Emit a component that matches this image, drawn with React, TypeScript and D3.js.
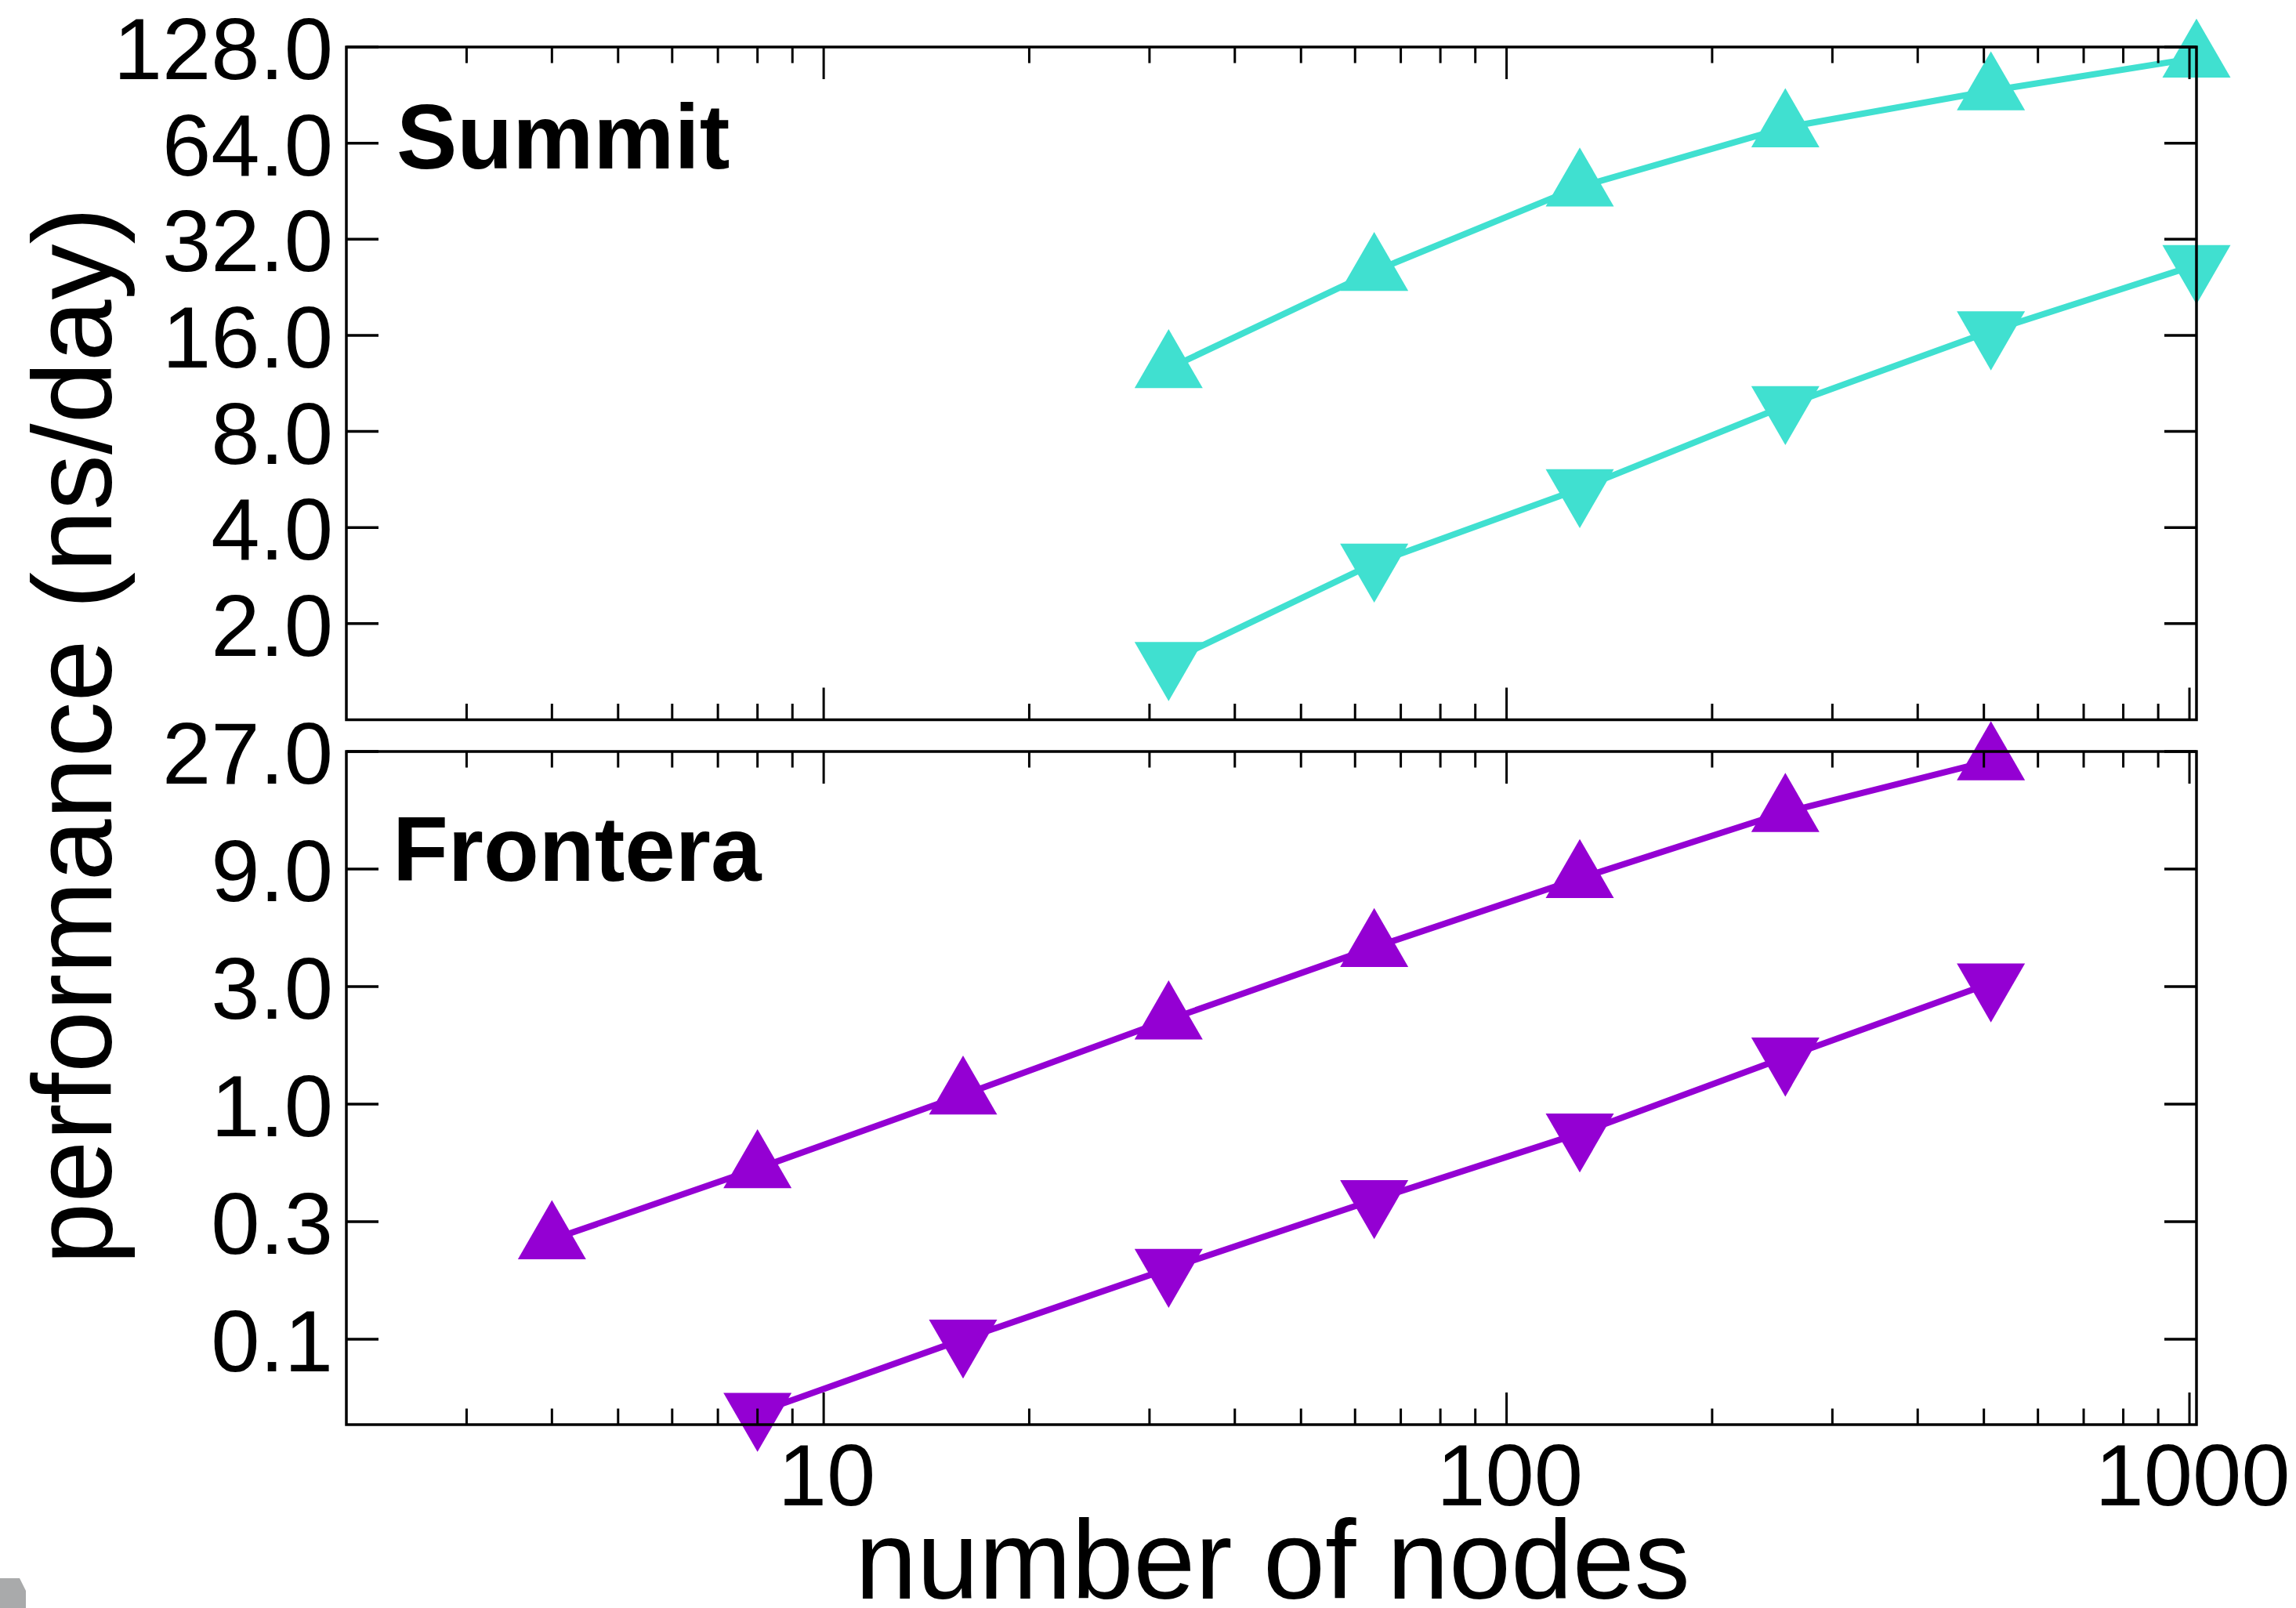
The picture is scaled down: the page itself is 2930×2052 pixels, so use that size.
import React from "react";
import * as d3 from "d3";

// ---- data ----
const summitNodes = [32, 64, 128, 256, 512, 1024];
const summitUp = [12.6, 25.4, 46.7, 71.6, 93.4, 118.3];
const summitDown = [1.52, 3.09, 5.29, 9.63, 16.5, 26.6];

const fronteraUpNodes = [4, 8, 16, 32, 64, 128, 256, 512];
const fronteraUp = [0.282, 0.548, 1.09, 2.2, 4.33, 8.25, 15.3, 24.8];
const fronteraDownNodes = [8, 16, 32, 64, 128, 256, 512];
const fronteraDown = [0.056, 0.111, 0.215, 0.409, 0.762, 1.55, 3.1];

const topTickValues = [128, 64, 32, 16, 8, 4, 2];
const topTickLabels = ["128.0", "64.0", "32.0", "16.0", "8.0", "4.0", "2.0"];
const botTickValues = [27, 9, 3, 1, 1 / 3, 1 / 9];
const botTickLabels = ["27.0", "9.0", "3.0", "1.0", "0.3", "0.1"];
const xMajor = [10, 100, 1000];
const xMajorLabels = ["10", "100", "1000"];
const xMinor = [3, 4, 5, 6, 7, 8, 9, 20, 30, 40, 50, 60, 70, 80, 90, 200, 300, 400, 500, 600, 700, 800, 900];

const TURQ = "#40E0D0";
const PURPLE = "#9400D3";
const FONT = "'Liberation Sans', Arial, Helvetica, sans-serif";

const W = 2930;
const H = 2052;
const L = 442;
const R = 2803;
const topPanel = { y0: 60, y1: 918.5 };
const botPanel = { y0: 959, y1: 1818 };

const x = d3.scaleLog().domain([2, 1024]).range([L, R]);
const yTop = d3.scaleLog().domain([1, 128]).range([topPanel.y1, topPanel.y0]);
const yBot = d3.scaleLog().domain([0.05, 27]).range([botPanel.y1, botPanel.y0]);

const SIDE = 87;
const TH = (SIDE * Math.sqrt(3)) / 2;

function tri(cx: number, cy: number, up: boolean) {
  const s = up ? 1 : -1;
  const apex = cy - (s * 2 * TH) / 3;
  const base = cy + (s * TH) / 3;
  return `M${cx},${apex}L${cx - SIDE / 2},${base}L${cx + SIDE / 2},${base}Z`;
}

function Series({ xs, ys, y, color, up }: { xs: number[]; ys: number[]; y: any; color: string; up: boolean }) {
  const pts: [number, number][] = xs.map((n, i) => [x(n), y(ys[i])]);
  const line = d3.line()(pts) || "";
  return (
    <g>
      <path d={line} fill="none" stroke={color} strokeWidth={8} strokeLinejoin="round" />
      {pts.map((p, i) => (
        <path key={i} d={tri(p[0], p[1], up)} fill={color} />
      ))}
    </g>
  );
}

function Frame({ y0, y1, y, tickVals }: { y0: number; y1: number; y: any; tickVals: number[] }) {
  const major = 41;
  const minor = 20.5;
  return (
    <g stroke="#000">
      <rect x={L} y={y0} width={R - L} height={y1 - y0} fill="none" strokeWidth={3.5} />
      {xMajor.map((v, i) => (
        <g key={"M" + i} strokeWidth={3}>
          <line x1={x(v)} x2={x(v)} y1={y1} y2={y1 - major} />
          <line x1={x(v)} x2={x(v)} y1={y0} y2={y0 + major} />
        </g>
      ))}
      {xMinor.map((v, i) => (
        <g key={"m" + i} strokeWidth={3}>
          <line x1={x(v)} x2={x(v)} y1={y1} y2={y1 - minor} />
          <line x1={x(v)} x2={x(v)} y1={y0} y2={y0 + minor} />
        </g>
      ))}
      {tickVals.map((v, i) => (
        <g key={"y" + i} strokeWidth={3.5}>
          <line x1={L} x2={L + major} y1={y(v)} y2={y(v)} />
          <line x1={R} x2={R - major} y1={y(v)} y2={y(v)} />
        </g>
      ))}
    </g>
  );
}

export default function App() {
  return (
    <div style={{ position: "absolute", left: 0, top: 0 }}>
      <svg width={W} height={H} viewBox={`0 0 ${W} ${H}`} style={{ display: "block", background: "#fff" }}>
        <rect x={0} y={0} width={W} height={H} fill="#fff" />

        {/* data */}
        <Series xs={summitNodes} ys={summitUp} y={yTop} color={TURQ} up={true} />
        <Series xs={summitNodes} ys={summitDown} y={yTop} color={TURQ} up={false} />
        <Series xs={fronteraUpNodes} ys={fronteraUp} y={yBot} color={PURPLE} up={true} />
        <Series xs={fronteraDownNodes} ys={fronteraDown} y={yBot} color={PURPLE} up={false} />

        {/* frames */}
        <Frame y0={topPanel.y0} y1={topPanel.y1} y={yTop} tickVals={topTickValues} />
        <Frame y0={botPanel.y0} y1={botPanel.y1} y={yBot} tickVals={botTickValues} />

        {/* y tick labels */}
        <g fontFamily={FONT} fontSize={112} textAnchor="end" fill="#000">
          {topTickValues.map((v, i) => (
            <text key={"t" + i} x={425} y={yTop(v) + 41}>
              {topTickLabels[i]}
            </text>
          ))}
          {botTickValues.map((v, i) => (
            <text key={"b" + i} x={425} y={yBot(v) + 41}>
              {botTickLabels[i]}
            </text>
          ))}
        </g>

        {/* x tick labels */}
        <g fontFamily={FONT} fontSize={112} textAnchor="middle" fill="#000">
          {xMajor.map((v, i) => (
            <text key={i} x={x(v) + 4} y={1921}>
              {xMajorLabels[i]}
            </text>
          ))}
        </g>

        {/* panel labels */}
        <text x={506} y={215} fontFamily={FONT} fontWeight="bold" fontSize={116} fill="#000">
          Summit
        </text>
        <text x={501} y={1124} fontFamily={FONT} fontWeight="bold" fontSize={116} fill="#000">
          Frontera
        </text>

        {/* axis titles */}
        <text
          transform="translate(142,939) rotate(-90)"
          textAnchor="middle"
          fontFamily={FONT}
          fontSize={142}
          fill="#000"
        >
          performance (ns/day)
        </text>
        <text x={1624} y={2040} textAnchor="middle" fontFamily={FONT} fontSize={142} fill="#000">
          number of nodes
        </text>

        {/* small gray corner mark */}
        <path d="M0,2014L25,2014L33,2030L33,2052L0,2052Z" fill="#a9aaab" />
      </svg>
    </div>
  );
}
